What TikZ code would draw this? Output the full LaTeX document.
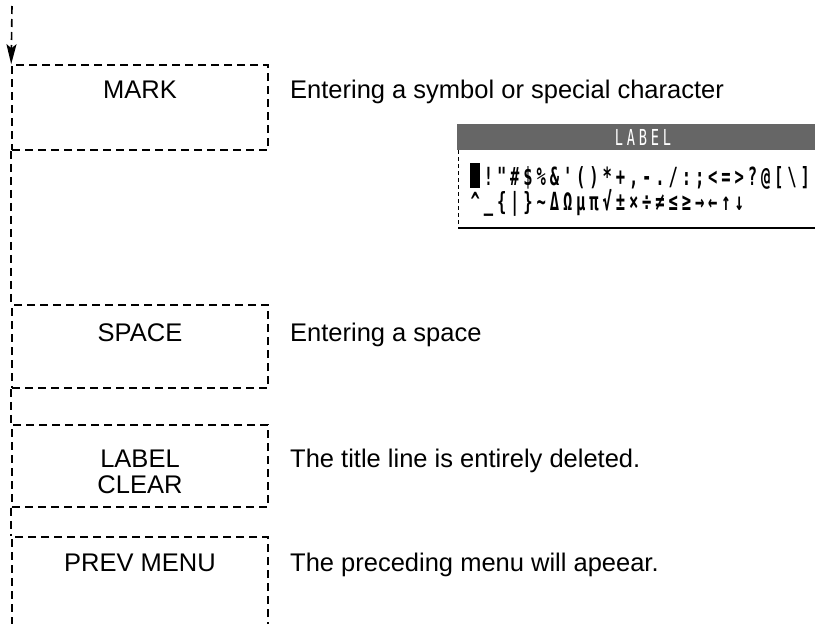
\documentclass[tikz,border=0pt]{standalone}
\usepackage{fontspec}
\setmainfont{Liberation Sans}
\newfontfamily\lcd{DejaVu Sans Mono}[FakeStretch=0.62]
\usetikzlibrary{arrows.meta}
\newcommand\lcc[1]{\makebox[13.2pt][c]{#1}}
\newcommand\hcc[1]{\makebox[12pt][c]{#1}}
\begin{document}
\begin{tikzpicture}[x=1pt,y=1pt,
  dline/.style={line width=1.6pt, dash pattern=on 8pt off 5pt},
  menubox/.style={dline, rectangle, draw, minimum width=256pt, inner sep=0pt},
  lbl/.style={font=\fontsize{25.5}{23}\selectfont, inner sep=0pt, anchor=base},
  desc/.style={font=\fontsize{25.5}{30}\selectfont, inner sep=0pt, anchor=base west},
  lcdtxt/.style={font=\lcd\bfseries\fontsize{25}{25}\selectfont, inner sep=0pt, anchor=base west},
]
\useasboundingbox (0,0) rectangle (815,-624);
\clip (0,0) rectangle (815,-624);

% menu boxes
\node[menubox, minimum height=85pt] (mark)  at (140,-107.5) {};
\node[menubox, minimum height=83pt] (space) at (140,-346.5) {};
\node[menubox, minimum height=82pt] (clear) at (140,-466) {};
\node[menubox, minimum height=123pt] (prev) at (140,-598.5) {};

% box labels
\node[lbl] (markl)   at (140,-98)  {MARK};
\node[lbl] (spacel)  at (140,-341) {SPACE};
\node[lbl] (clearl1) at (140,-467) {LABEL};
\node[lbl] (clearl2) at (140,-493) {CLEAR};
\node[lbl] (prevl)   at (140,-571) {PREV MENU};

% descriptions
\node[desc] (markd)  at (290,-98)  {Entering a symbol or special character};
\node[desc] (spaced) at (290,-341) {Entering a space};
\node[desc] (cleard) at (290,-467) {The title line is entirely deleted.};
\node[desc] (prevd)  at (290,-571) {The preceding menu will apeear.};

% main flow line
\coordinate (top) at (12,-6);
\draw[dline, -{Stealth[length=20pt,width=10pt,inset=4pt]}] (top) -- (mark.north west);
\draw[dline] (mark.south west) -- (space.north west);
\draw[dline] (space.south west) -- (clear.north west);
\draw[dline] (clear.south west) -- (prev.north west);

% LCD screen
\node[fill=black!60, inner sep=0pt, minimum width=370pt, minimum height=26pt, anchor=north west] (hdr) at (457,-124) {};
\node[font=\lcd\fontsize{22}{24}\selectfont, text=white, inner sep=0pt] (hdrt) at (643,-137)
  {\hcc{L}\hcc{A}\hcc{B}\hcc{E}\hcc{L}};
\coordinate (bl) at (458,-228);
\coordinate (br) at (815,-228);
\draw[line width=0.9pt, dash pattern=on 4pt off 3pt] ([xshift=1pt]hdr.south west) -- (bl);
\draw[line width=1.5pt] (bl) -- (br);
\node[lcdtxt] (row1) at (468.5,-185)
  {\lcc{\rule[-3pt]{10pt}{25pt}}\lcc{!}\lcc{"}\lcc{\#}\lcc{\$}\lcc{\%}\lcc{\&}\lcc{'}\lcc{(}\lcc{)}\lcc{*}\lcc{+}\lcc{,}\lcc{-}\lcc{.}\lcc{/}\lcc{:}\lcc{;}\lcc{<}\lcc{=}\lcc{>}\lcc{?}\lcc{@}\lcc{[}\lcc{\textbackslash}\lcc{]}};
\node[lcdtxt] (row2) at (468.5,-210)
  {\lcc{\textasciicircum}\lcc{\_}\lcc{\{}\lcc{|}\lcc{\}}\lcc{\textasciitilde}\lcc{Δ}\lcc{Ω}\lcc{μ}\lcc{π}\lcc{√}\lcc{±}\lcc{×}\lcc{÷}\lcc{≠}\lcc{≤}\lcc{≥}\lcc{→}\lcc{←}\lcc{↑}\lcc{↓}};
\end{tikzpicture}
\end{document}
